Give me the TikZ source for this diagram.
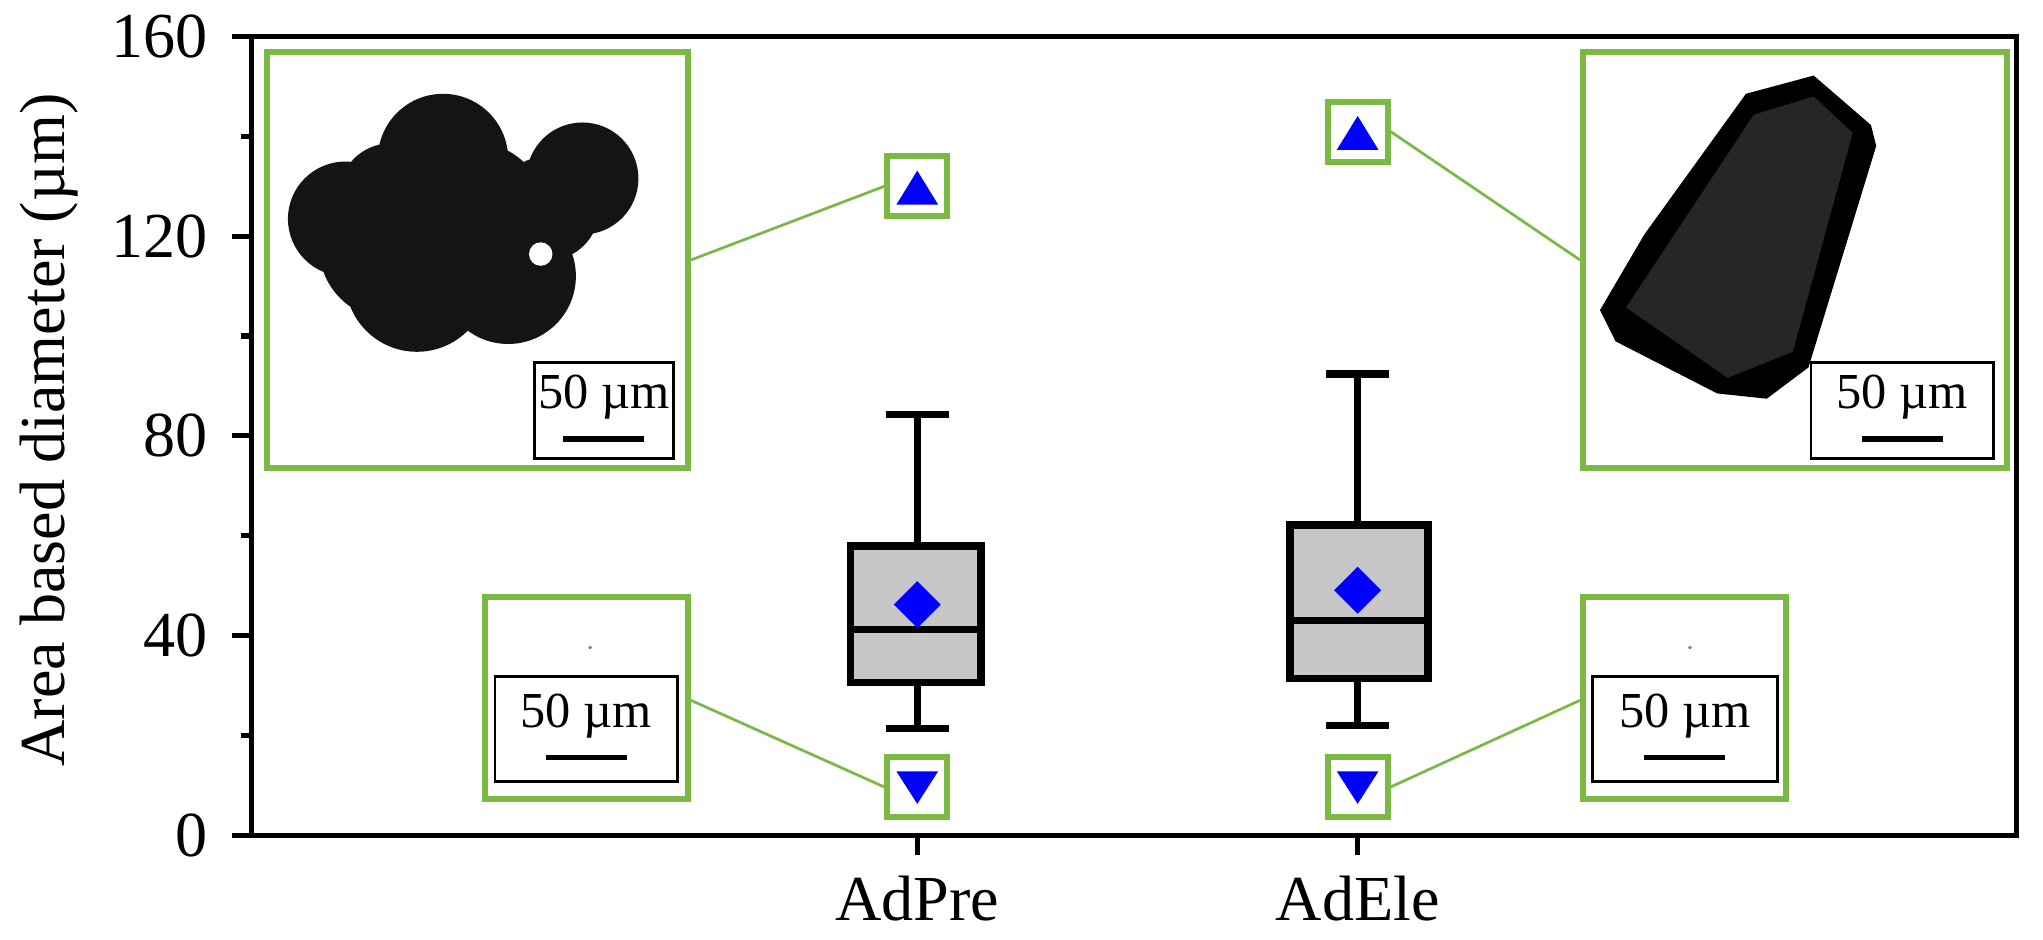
\documentclass[tikz,border=0pt]{standalone}
\usepackage{fontspec}
\setmainfont{Liberation Serif}
\definecolor{gr}{HTML}{7CB944}
\begin{document}
\begin{tikzpicture}[x=0.01cm,y=-0.01cm,
  frame/.style={line width=1.1pt,black},
  bx/.style={line width=1.6pt,black,fill=black!22},
  wh/.style={line width=1.6pt,black},
  gbox/.style={draw=gr,line width=1.3pt,fill=white},
  gline/.style={draw=gr,line width=0.6pt},
  sbox/.style={draw=black,line width=0.6pt,fill=white},
  mk/.style={fill=blue,draw=none},
  lab/.style={font=\fontsize{14}{16}\selectfont},
  slab/.style={font=\fontsize{11}{13}\selectfont}]
\useasboundingbox (0,0) rectangle (1568,721);
% axes
\draw[frame] (193,28) rectangle (1548,641);
\foreach \v/\t in {0/0,40/40,80/80,120/120,160/160}{
  \draw[frame] (193,{641-\v*3.83125}) -- (178,{641-\v*3.83125});
  \node[lab,anchor=east] (t\v) at (172,{641-\v*3.83125}) {\t};}
\foreach \v in {20,60,100,140}{
  \draw[frame] (193,{641-\v*3.83125}) -- (185,{641-\v*3.83125});}
\draw[frame] (704,641) -- (704,656);
\draw[frame] (1042,641) -- (1042,656);
\node[lab] (xa) at (704,690) {AdPre};
\node[lab] (xb) at (1042,690) {AdEle};
\node[lab,rotate=90] (yl) at (38,330) {Area based diameter (µm)};
% boxes
\draw[wh] (704,419) -- (704,318) (680,318) -- (728,318);
\draw[wh] (704,524) -- (704,559) (680,559) -- (728,559);
\draw[bx] (653,419) rectangle (753,524);
\draw[wh] (653,483) -- (753,483);
\draw[wh] (1042,403) -- (1042,287) (1018,287) -- (1066,287);
\draw[wh] (1042,521) -- (1042,557) (1018,557) -- (1066,557);
\draw[bx] (990,403) rectangle (1096,521);
\draw[wh] (990,476) -- (1096,476);
\fill[mk] (704,446) -- (722,464) -- (704,482) -- (686,464) -- cycle;
\fill[mk] (1042,435) -- (1060,453) -- (1042,471) -- (1024,453) -- cycle;
% outlier boxes
\node[gbox,inner sep=0pt,minimum size=0.46cm] (maxa) at (704,143) {};
\node[gbox,inner sep=0pt,minimum size=0.46cm] (mina) at (704,604) {};
\node[gbox,inner sep=0pt,minimum size=0.46cm] (maxb) at (1042,101) {};
\node[gbox,inner sep=0pt,minimum size=0.46cm] (minb) at (1042,604) {};
\fill[mk] (704,131) -- (720,157) -- (688,157) -- cycle;
\fill[mk] (1042,89) -- (1058,115) -- (1026,115) -- cycle;
\fill[mk] (704,617) -- (720,592) -- (688,592) -- cycle;
\fill[mk] (1042,617) -- (1058,592) -- (1026,592) -- cycle;
% insets
\node[gbox,minimum width=3.23cm,minimum height=3.19cm,inner sep=0pt] (ia) at (366.5,199.5) {};
\node[gbox,minimum width=3.25cm,minimum height=3.19cm,inner sep=0pt] (ib) at (1377.5,199.5) {};
\node[gbox,minimum width=1.56cm,minimum height=1.55cm,inner sep=0pt] (ic) at (450,535.5) {};
\node[gbox,minimum width=1.56cm,minimum height=1.55cm,inner sep=0pt] (id) at (1293,535.5) {};
\draw[gline] (ia.east) -- (maxa.west);
\draw[gline] (ib.west) -- (maxb.east);
\draw[gline] ([yshift=-0.02cm]ic.east) -- (mina.west);
\draw[gline] ([yshift=-0.02cm]id.west) -- (minb.east);
% particle A
\fill[black!92] (340,122) circle (50) (447,137) circle (43) (265,168) circle (44)
  (320,215) circle (55) (390,212) circle (52) (360,170) circle (62) (300,190) circle (55)
  (420,160) circle (40) (300,150) circle (40);
\fill[white] (415,195) circle (9);
% particle B
\fill[black] (1228,238) -- (1262,180) -- (1340,72) -- (1392,58) -- (1436,96) -- (1440,112)
  -- (1388,282) -- (1356,306) -- (1318,302) -- (1240,262) -- cycle;
\fill[black!85] (1248,236) -- (1346,88) -- (1392,74) -- (1422,102) -- (1376,270) -- (1326,290) -- cycle;
\fill[gray] (453,497) circle (1.5);
\fill[gray] (1297,497) circle (1.5);
% scale boxes
\node[sbox,minimum width=1.07cm,minimum height=0.74cm,inner sep=0pt] (sa) at (463.5,315) {};
\node[sbox,minimum width=1.40cm,minimum height=0.74cm,inner sep=0pt] (sb) at (1460,315) {};
\node[sbox,minimum width=1.40cm,minimum height=0.81cm,inner sep=0pt] (sc) at (450,559.5) {};
\node[sbox,minimum width=1.42cm,minimum height=0.81cm,inner sep=0pt] (sd) at (1293,559.5) {};
\foreach \s in {sa,sb,sc,sd}{
  \node[slab] (\s t) at ([yshift=0.1cm]\s.center) {50 µm};
  \draw[line width=1.2pt] ([xshift=-0.31cm,yshift=-0.22cm]\s.center) -- ([xshift=0.31cm,yshift=-0.22cm]\s.center);}
\end{tikzpicture}
\end{document}
